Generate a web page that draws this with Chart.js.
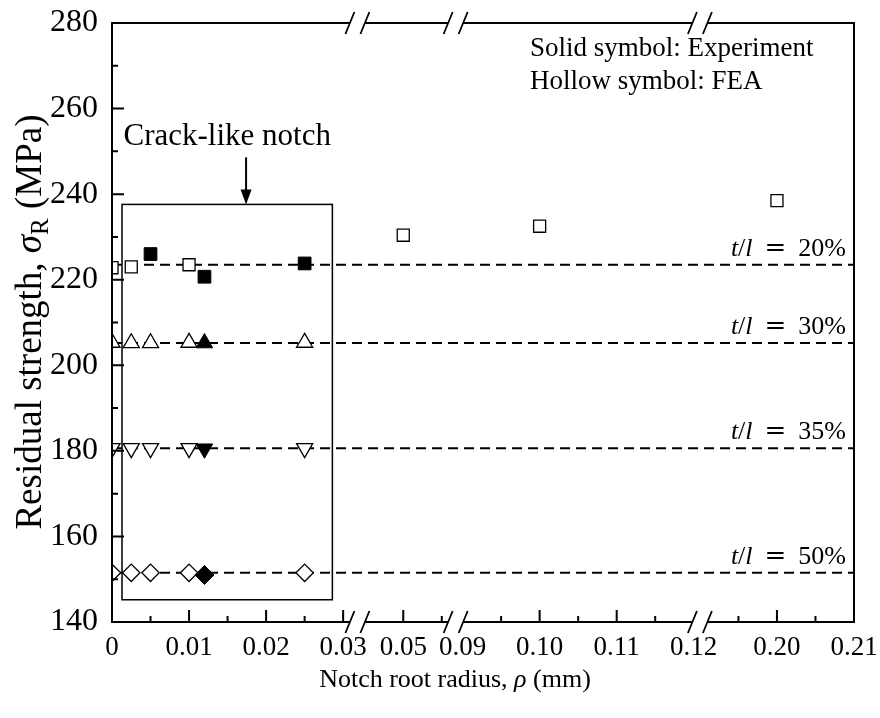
<!DOCTYPE html>
<html>
<head>
<meta charset="utf-8">
<script src="https://cdn.jsdelivr.net/npm/chart.js@4.4.1/dist/chart.umd.min.js"></script>
<style>
  html, body { margin: 0; padding: 0; background: #fff; }
  #wrap { width: 880px; height: 718px; }
</style>
</head>
<body>
<div id="wrap"><canvas id="c" width="880" height="718"></canvas></div>
<script>
// ---- Data: residual strength (MPa) vs notch root radius (mm) ----
const FEA_20_X = [0, 0.0025, 0.01, 0.05, 0.10, 0.20];
const FEA_20_Y = [222.8, 223.0, 223.5, 230.4, 232.5, 238.5];

const FEA_X = [0, 0.0025, 0.005, 0.01, 0.025];
const FEA_30_Y = [205.3, 205.2, 205.2, 205.3, 205.3];
const FEA_35_Y = [180.6, 180.6, 180.6, 180.6, 180.6];
const FEA_50_Y = [151.5, 151.5, 151.5, 151.5, 151.5];

const EXP_20_X = [0.005, 0.012, 0.025];
const EXP_20_Y = [226.0, 220.7, 223.8];
const EXP_X = [0.012];
const EXP_30_Y = [205.2];
const EXP_35_Y = [180.5];
const EXP_50_Y = [151.0];

// Reference strength levels for each ligament ratio t/l
const LEVELS = [223.5, 205.2, 180.6, 151.5];
const LEVEL_LABELS = ['20%', '30%', '35%', '50%'];

// Broken x axis: each segment keeps its own real range, shifted onto one linear axis
const SEGMENTS = [
  { from: 0,      to: 0.0319, shift: 0 },
  { from: 0.044,  to: 0.0568, shift: 0.0122 },
  { from: 0.0891, to: 0.1208, shift: 0.0445 },
  { from: 0.19,   to: 0.21,   shift: 0.1137 }
];
const X_TICK_VALUES = [0, 0.01, 0.02, 0.03, 0.05, 0.09, 0.10, 0.11, 0.12, 0.20, 0.21];
const X_TICK_LABELS = ['0', '0.01', '0.02', '0.03', '0.05', '0.09', '0.10', '0.11', '0.12', '0.20', '0.21'];
const X_MAJOR = [0, 0.01, 0.02, 0.03, 0.05, 0.10, 0.11, 0.20];
const X_MINOR = [0.005, 0.015, 0.025, 0.055, 0.095, 0.105, 0.115, 0.195, 0.205];
const Y_MAJOR = [160, 180, 200, 220, 240, 260];
const Y_MINOR = [150, 170, 190, 210, 230, 250, 270];

// Crack-like notch region (real x, MPa)
const NOTCH_BOX = { x0: 0.0013, x1: 0.0286, y0: 145.2, y1: 237.6 };
const NOTCH_ARROW_X = 0.0174;

function toAxis(r) {
  for (const s of SEGMENTS) {
    if (r >= s.from - 1e-9 && r <= s.to + 1e-9) return r - s.shift;
  }
  return r;
}
const X_MAX = toAxis(0.21);
const BREAKS = SEGMENTS.slice(0, -1).map((s, i) =>
  ((s.to - s.shift) + (SEGMENTS[i + 1].from - SEGMENTS[i + 1].shift)) / 2);

const pts = (xs, ys) => xs.map((x, i) => ({ x: toAxis(x), y: ys[i] }));

const SERIF = '"Liberation Serif", "Times New Roman", serif';
const F = (size, style) => `${style ? style + ' ' : ''}${size}px ${SERIF}`;

function hollow(data, style, rot, r) {
  return {
    type: 'scatter', data, order: 2, clip: 0,
    pointStyle: style, rotation: rot || 0, pointRadius: r,
    pointBackgroundColor: '#fff', pointBorderColor: '#000', pointBorderWidth: 1.3
  };
}
function solid(data, style, rot, r) {
  return {
    type: 'scatter', data, order: 1, clip: 0,
    pointStyle: style, rotation: rot || 0, pointRadius: r,
    pointBackgroundColor: '#000', pointBorderColor: '#000', pointBorderWidth: 1
  };
}

const levelSets = LEVELS.map(v => ({
  type: 'line', data: [{ x: 0, y: v }, { x: X_MAX, y: v }], order: 3,
  borderColor: '#000', borderWidth: 2, borderDash: [10, 6], pointRadius: 0, clip: 0
}));

// Draw a sequence of text runs with mixed styles; {gap} adds fixed spacing
function drawRuns(ctx, runs, x, y, align) {
  const widthOf = r => { if (r.gap) return r.gap; ctx.font = r.f; return ctx.measureText(r.t).width; };
  const w = runs.reduce((s, r) => s + widthOf(r), 0);
  let cx = align === 'right' ? x - w : align === 'center' ? x - w / 2 : x;
  runs.forEach(r => {
    if (!r.gap) {
      ctx.font = r.f;
      ctx.fillText(r.t, cx, y + (r.dy || 0));
    }
    cx += widthOf(r);
  });
}

const decor = {
  id: 'decor',
  afterDraw(chart) {
    const { ctx, chartArea: a, scales: { x, y } } = chart;
    ctx.save();
    ctx.strokeStyle = '#000';
    ctx.fillStyle = '#000';
    ctx.lineCap = 'butt';

    // frame
    ctx.lineWidth = 2;
    ctx.strokeRect(a.left, a.top, a.right - a.left, a.bottom - a.top);

    // inward tick marks
    ctx.beginPath();
    X_MAJOR.forEach(v => { const px = x.getPixelForValue(toAxis(v)); ctx.moveTo(px, a.bottom); ctx.lineTo(px, a.bottom - 12); });
    X_MINOR.forEach(v => { const px = x.getPixelForValue(toAxis(v)); ctx.moveTo(px, a.bottom); ctx.lineTo(px, a.bottom - 6); });
    Y_MAJOR.forEach(v => { const py = y.getPixelForValue(v); ctx.moveTo(a.left, py); ctx.lineTo(a.left + 12, py); });
    Y_MINOR.forEach(v => { const py = y.getPixelForValue(v); ctx.moveTo(a.left, py); ctx.lineTo(a.left + 6, py); });
    ctx.stroke();

    // axis breaks (top and bottom)
    BREAKS.forEach(bv => {
      const bx = x.getPixelForValue(bv);
      [a.top, a.bottom].forEach(yy => {
        ctx.fillStyle = '#fff';
        ctx.fillRect(bx - 7.5, yy - 2, 15, 4);
        ctx.beginPath();
        [-7.5, 7.5].forEach(d => {
          ctx.moveTo(bx + d - 4.5, yy + 11);
          ctx.lineTo(bx + d + 4.5, yy - 11);
        });
        ctx.lineWidth = 1.8;
        ctx.stroke();
      });
    });

    // crack-like notch box, arrow and label
    ctx.fillStyle = '#000';
    ctx.lineWidth = 1.5;
    const bx0 = x.getPixelForValue(toAxis(NOTCH_BOX.x0));
    const bx1 = x.getPixelForValue(toAxis(NOTCH_BOX.x1));
    const by0 = y.getPixelForValue(NOTCH_BOX.y1);
    const by1 = y.getPixelForValue(NOTCH_BOX.y0);
    ctx.strokeRect(bx0, by0, bx1 - bx0, by1 - by0);
    const ax = x.getPixelForValue(toAxis(NOTCH_ARROW_X));
    ctx.lineWidth = 2;
    ctx.beginPath();
    ctx.moveTo(ax, by0 - 47); ctx.lineTo(ax, by0 - 12); ctx.stroke();
    ctx.beginPath();
    ctx.moveTo(ax, by0); ctx.lineTo(ax - 5.5, by0 - 15); ctx.lineTo(ax + 5.5, by0 - 15); ctx.closePath(); ctx.fill();
    ctx.textBaseline = 'alphabetic';
    ctx.textAlign = 'left';
    drawRuns(ctx, [{ t: 'Crack-like notch', f: F(31) }], (bx0 + bx1) / 2, by0 - 59, 'center');

    // ligament ratio labels
    LEVELS.forEach((v, i) => {
      const py = y.getPixelForValue(v);
      drawRuns(ctx, [
        { t: 't', f: F(26, 'italic') },
        { t: '/', f: F(26) },
        { t: 'l', f: F(26, 'italic') },
        { gap: 12 },
        { t: '=', f: '26px "DejaVu Serif", serif' },
        { gap: 12 },
        { t: LEVEL_LABELS[i], f: F(26) }
      ], a.right - 8, py - 9, 'right');
    });

    // symbol note
    drawRuns(ctx, [{ t: 'Solid symbol: Experiment', f: F(27) }], 530, 56, 'left');
    drawRuns(ctx, [{ t: 'Hollow symbol: FEA', f: F(27) }], 530, 89, 'left');

    // axis titles
    drawRuns(ctx, [
      { t: 'Notch root radius, ', f: F(26) },
      { t: 'ρ', f: F(26, 'italic') },
      { t: ' (mm)', f: F(26) }
    ], 455, 687, 'center');

    ctx.translate(41, 322);
    ctx.rotate(-Math.PI / 2);
    drawRuns(ctx, [
      { t: 'Residual strength, ', f: F(37) },
      { t: 'σ', f: F(37, 'italic') },
      { t: 'R', f: F(25), dy: 7 },
      { t: ' (MPa)', f: F(37) }
    ], 0, 0, 'center');
    ctx.restore();
  }
};

new Chart(document.getElementById('c'), {
  type: 'scatter',
  data: {
    datasets: [
      solid(pts(EXP_20_X, EXP_20_Y), 'rect', 0, 9),
      solid(pts(EXP_X, EXP_30_Y), 'triangle', 0, 9.5),
      solid(pts(EXP_X, EXP_35_Y), 'triangle', 180, 9.5),
      solid(pts(EXP_X, EXP_50_Y), 'rectRot', 0, 9.5),
      hollow(pts(FEA_20_X, FEA_20_Y), 'rect', 0, 8.5),
      hollow(pts(FEA_X, FEA_30_Y), 'triangle', 0, 9.3),
      hollow(pts(FEA_X, FEA_35_Y), 'triangle', 180, 9.3),
      hollow(pts(FEA_X, FEA_50_Y), 'rectRot', 0, 8.7),
      ...levelSets
    ]
  },
  plugins: [decor],
  options: {
    responsive: false,
    animation: false,
    devicePixelRatio: 1,
    layout: { padding: { left: 0, right: 26, top: 23, bottom: 0 } },
    plugins: { legend: { display: false }, tooltip: { enabled: false } },
    scales: {
      x: {
        type: 'linear', min: 0, max: X_MAX,
        grid: { display: false, drawTicks: false },
        border: { display: false },
        afterFit: s => { s.height = 96; s.paddingLeft = 0; s.paddingRight = 0; },
        afterBuildTicks: s => { s.ticks = X_TICK_VALUES.map(v => ({ value: toAxis(v) })); },
        ticks: {
          autoSkip: false, maxRotation: 0, minRotation: 0, padding: 10,
          color: '#000', font: { family: SERIF, size: 27 },
          callback: (v, i) => X_TICK_LABELS[i]
        }
      },
      y: {
        type: 'linear', min: 140, max: 280,
        grid: { display: false, drawTicks: false },
        border: { display: false },
        afterFit: s => { s.width = 112; s.paddingTop = 0; s.paddingBottom = 0; },
        ticks: {
          stepSize: 20, padding: 14,
          color: '#000', font: { family: SERIF, size: 32 }
        }
      }
    }
  }
});
</script>
</body>
</html>
